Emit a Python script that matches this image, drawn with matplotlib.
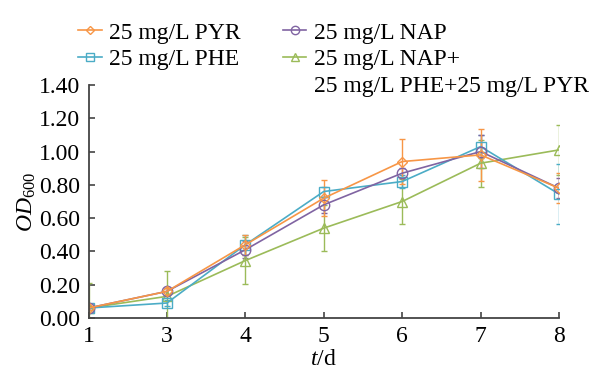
import matplotlib
matplotlib.use("Agg")
import matplotlib.pyplot as plt
from matplotlib.lines import Line2D
import numpy as np

plt.rcParams['font.family'] = ['Liberation Serif', 'DejaVu Serif']
plt.rcParams['mathtext.fontset'] = 'custom'
plt.rcParams['mathtext.rm'] = 'Liberation Serif'
plt.rcParams['mathtext.it'] = 'Liberation Serif:italic'

days = ['1', '3', '4', '5', '6', '7', '8']
pyr = [0.06, 0.16, 0.44, 0.72, 0.94, 0.98, 0.78]
pyr_err = [0.01, 0.02, 0.06, 0.11, 0.135, 0.155, 0.09]
nap = [0.06, 0.16, 0.41, 0.68, 0.87, 1.00, 0.78]
nap_err = [0.01, 0.02, 0.05, 0.05, 0.03, 0.10, 0.06]
phe = [0.06, 0.09, 0.44, 0.76, 0.82, 1.03, 0.745]
phe_err = [0.01, 0.02, 0.06, 0.03, 0.04, 0.07, 0.18]
mix = [0.06, 0.13, 0.345, 0.54, 0.70, 0.93, 1.01]
mix_err = [0.15, 0.15, 0.14, 0.14, 0.135, 0.14, 0.15]

labels = ['25 mg/L PYR', '25 mg/L NAP', '25 mg/L PHE', '25 mg/L NAP+']
extra_label = '25 mg/L PHE+25 mg/L PYR'
colors = ['#F79646', '#8064A2', '#4BACC6', '#9BBB59']
markers = ['D', 'o', 's', '^']
msizes = [5.5, 7.5, 7, 7.5]

fig = plt.figure(figsize=(5.95, 3.71), dpi=100)
ax = fig.add_axes([88.5 / 595, 1 - 318 / 371, (559 - 88.5) / 595, (318 - 85) / 371])
x = np.arange(len(days))

series = [(pyr, pyr_err), (nap, nap_err), (phe, phe_err), (mix, mix_err)]
handles = {}
for i in [3, 2, 1, 0]:
    y, e = series[i]
    h = ax.errorbar(x, y, yerr=e, color=colors[i], marker=markers[i],
                    markersize=msizes[i], markerfacecolor='none',
                    markeredgewidth=1.0, linewidth=1.2, capsize=2,
                    elinewidth=1.0, capthick=1.0, label=labels[i])
    handles[i] = h[0]

ax.set_xlim(0, 6)
ax.set_ylim(0, 1.40)
ax.set_xticks(x)
ax.set_xticklabels(days)
yt = np.arange(0, 1.41, 0.2)
ax.set_yticks(yt)
ax.set_yticklabels([f'{v:.2f}' for v in yt])
ax.tick_params(direction='in', labelsize=17, length=4, width=1.2,
               color='#444444', pad=6)
for s in ['top', 'right']:
    ax.spines[s].set_visible(False)
for s in ['left', 'bottom']:
    ax.spines[s].set_color('#444444')
    ax.spines[s].set_linewidth(1.3)

ax.set_ylabel(r'$\mathit{OD}_{600}$', fontsize=17, labelpad=1)
ax.set_xlabel(r'$\mathit{t}$/d', fontsize=17, labelpad=1)

blank = Line2D([], [], linestyle='none')
leg_handles = [handles[0], handles[2], blank, handles[1], handles[3], blank]
leg_labels = [labels[0], labels[2], '', labels[1], labels[3], extra_label]
fig.legend(leg_handles, leg_labels, ncol=2, loc='upper left',
           bbox_to_anchor=(78 / 595, 1 - 22 / 371),
           frameon=False, fontsize=17, handlelength=1.0, handletextpad=0.3,
           columnspacing=1.8, labelspacing=0.22, borderaxespad=0, borderpad=0,
           markerscale=0.8)

fig.savefig('out.png', dpi=100)
